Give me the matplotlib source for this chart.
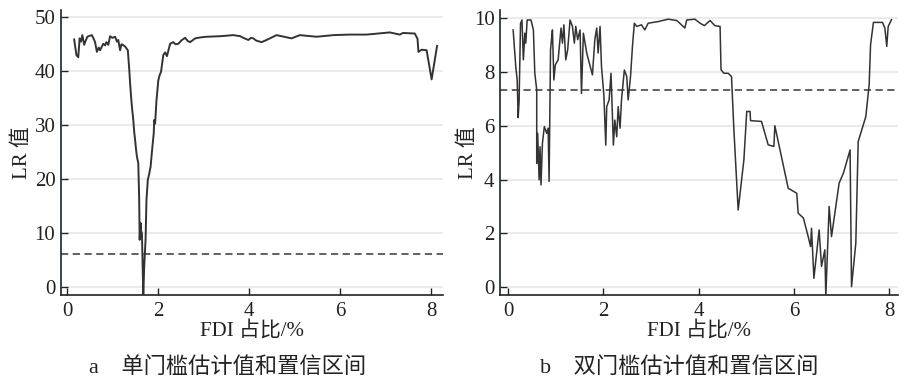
import matplotlib
matplotlib.use("Agg")
import matplotlib.pyplot as plt

plt.rcParams['font.family'] = ['Liberation Serif', 'Noto Sans CJK SC', 'DejaVu Sans']

# single threshold LR curve (panel a)
fdi_a = [0.15, 0.20, 0.24, 0.27, 0.30, 0.33, 0.37, 0.40, 0.44, 0.50, 0.54, 0.58, 0.61, 0.65,
         0.69, 0.72, 0.76, 0.79, 0.83, 0.86, 0.90, 0.94, 0.99, 1.05, 1.09, 1.12, 1.16, 1.19,
         1.22, 1.27, 1.33, 1.36, 1.38, 1.40, 1.42, 1.45, 1.47, 1.49, 1.51, 1.53, 1.56, 1.58,
         1.59, 1.61, 1.62, 1.64, 1.67, 1.69, 1.72, 1.74, 1.77, 1.80, 1.83, 1.87, 1.90, 1.91,
         1.93, 1.96, 2.00, 2.03, 2.06, 2.11, 2.15, 2.19, 2.26, 2.33, 2.38, 2.44, 2.52, 2.59,
         2.65, 2.70, 2.81, 2.95, 3.06, 3.36, 3.65, 3.80, 3.87, 3.98, 4.04, 4.09, 4.15, 4.27,
         4.38, 4.60, 4.93, 5.11, 5.48, 5.85, 6.20, 6.58, 7.09, 7.31, 7.38, 7.64, 7.70, 7.72,
         7.79, 7.90, 8.01, 8.13]
lr_a = [45.9, 43.0, 42.6, 46.1, 45.5, 46.7, 44.9, 45.6, 46.4, 46.6, 46.7, 46.0, 45.4, 43.6,
        44.4, 43.9, 44.6, 45.1, 44.8, 45.4, 44.9, 46.5, 46.2, 46.4, 45.5, 45.8, 43.9, 45.0,
        44.9, 44.6, 43.9, 40.5, 37.8, 35.5, 33.4, 31.0, 28.8, 27.3, 25.6, 24.2, 23.0, 16.2,
        8.8, 11.9, 10.5, 10.0, -1.4, 3.8, 8.8, 16.2, 19.9, 21.0, 22.3, 26.0, 28.5, 31.0,
        30.3, 34.6, 38.3, 39.3, 39.9, 43.0, 43.5, 42.8, 45.1, 45.4, 45.0, 45.1, 45.8, 46.2,
        45.6, 45.4, 46.1, 46.3, 46.4, 46.5, 46.7, 46.5, 46.2, 45.8, 46.2, 46.1, 45.7, 45.4,
        45.8, 46.7, 46.1, 46.7, 46.4, 46.7, 46.8, 46.8, 47.2, 46.8, 47.1, 47.0, 46.0, 43.6,
        44.0, 43.9, 38.5, 44.7]
crit_a = 6.2

# double threshold LR curve (panel b)
fdi_b = [0.105, 0.16, 0.19, 0.21, 0.23, 0.26, 0.29, 0.32, 0.35, 0.37, 0.40, 0.48, 0.53, 0.56,
         0.60, 0.60, 0.62, 0.65, 0.67, 0.69, 0.72, 0.76, 0.81, 0.84, 0.86, 0.89, 0.91, 0.93,
         0.96, 0.99, 1.05, 1.11, 1.14, 1.17, 1.21, 1.25, 1.30, 1.35, 1.39, 1.42, 1.46, 1.51,
         1.54, 1.58, 1.65, 1.77, 1.82, 1.86, 1.89, 1.93, 1.96, 2.01, 2.05, 2.07, 2.12, 2.16,
         2.21, 2.24, 2.28, 2.31, 2.35, 2.38, 2.44, 2.49, 2.52, 2.57, 2.61, 2.65, 2.70, 2.80,
         2.87, 2.94, 3.15, 3.36, 3.54, 3.64, 3.71, 3.75, 3.92, 4.03, 4.12, 4.24, 4.34, 4.45,
         4.47, 4.53, 4.62, 4.69, 4.74, 4.83, 4.95, 5.01, 5.08, 5.09, 5.32, 5.46, 5.58, 5.60,
         5.88, 6.06, 6.09, 6.20, 6.30, 6.35, 6.37, 6.42, 6.53, 6.58, 6.65, 6.67, 6.74, 6.79,
         6.95, 7.04, 7.18, 7.21, 7.30, 7.35, 7.51, 7.58, 7.61, 7.67, 7.86, 7.91, 7.95, 7.98,
         8.05]
lr_b = [9.56, 8.2, 7.7, 6.3, 6.9, 9.8, 9.93, 8.45, 9.44, 9.07, 9.93, 9.93, 9.56, 7.95,
        7.33, 4.6, 5.72, 3.99, 5.22, 3.8, 5.35, 5.97, 5.72, 5.91, 3.93, 8.82, 9.2, 9.56,
        7.7, 8.26, 8.45, 9.63, 9.07, 9.75, 8.45, 8.82, 9.93, 9.69, 9.07, 9.69, 9.2, 9.56,
        7.2, 9.44, 8.7, 7.89, 9.2, 9.63, 8.7, 9.69, 8.2, 7.14, 5.28, 6.71, 6.96, 7.95,
        5.28, 6.21, 5.59, 6.71, 5.91, 6.96, 8.07, 7.83, 6.96, 7.83, 8.94, 9.81, 9.69, 9.75,
        9.56, 9.81, 9.87, 9.96, 9.91, 9.75, 9.63, 9.93, 9.96, 9.81, 9.72, 9.91, 9.72, 9.69,
        8.08, 7.95, 7.95, 7.83, 5.85, 2.87, 4.73, 6.53, 6.53, 6.19, 6.16, 5.29, 5.23, 6.0,
        3.68, 3.49, 2.75, 2.57, 1.88, 1.51, 2.19, 0.33, 2.13, 0.77, 1.39, -0.35, 3.0, 1.88,
        3.87, 4.24, 5.10, 0.02, 1.63, 5.41, 6.34, 7.52, 9.01, 9.84, 9.84, 9.63, 8.95, 9.69,
        9.94]
crit_b = 7.31

captions = ['a    单门槛估计值和置信区间', 'b    双门槛估计值和置信区间']

fig = plt.figure(figsize=(9.1, 3.81), dpi=100)
ax1 = fig.add_axes([0.067, 0.2257, 0.4198, 0.748])
ax2 = fig.add_axes([0.5495, 0.2257, 0.437, 0.748])

panels = [
    (ax1, fdi_a, lr_a, crit_a, (-0.14, 8.26), (-1.43, 51.35), [0, 10, 20, 30, 40, 50], 1.4, 2),
    (ax2, fdi_b, lr_b, crit_b, (-0.17, 8.18), (-0.29, 10.3), [0, 2, 4, 6, 8, 10], 1.1, -3),
]

for ax, x, y, crit, xl, yl, yt, lw, ypad in panels:
    for t in yt:
        ax.plot([0, xl[1]], [t, t], color='#ebebeb', lw=1.5, zorder=0)
    ax.plot(x, y, color='#333333', lw=lw, zorder=3)
    ax.axhline(crit, color='#555555', lw=1.3, ls=(0, (4, 2.5)), zorder=2)
    ax.set_xlim(*xl)
    ax.set_ylim(*yl)
    ax.set_xticks([0, 2, 4, 6, 8])
    ax.set_yticks(yt)
    ax.tick_params(direction='in', length=5, width=1, labelsize=15, colors='#222222', pad=4)
    ax.tick_params(axis='x', pad=5)
    for s in ['top', 'right']:
        ax.spines[s].set_visible(False)
    for s in ['left', 'bottom']:
        ax.spines[s].set_color('#1a2530')
        ax.spines[s].set_linewidth(1.2)
    ax.set_xlabel('FDI 占比/%', fontsize=15, labelpad=0, color='#222222')
    ax.set_ylabel('LR 值', fontsize=15, labelpad=ypad, color='#222222')

fig.text(0.25, 0.035, captions[0], fontsize=16, ha='center', va='center', color='#222222')
fig.text(0.746, 0.035, captions[1], fontsize=16, ha='center', va='center', color='#222222')

fig.savefig('out.png', dpi=100)
